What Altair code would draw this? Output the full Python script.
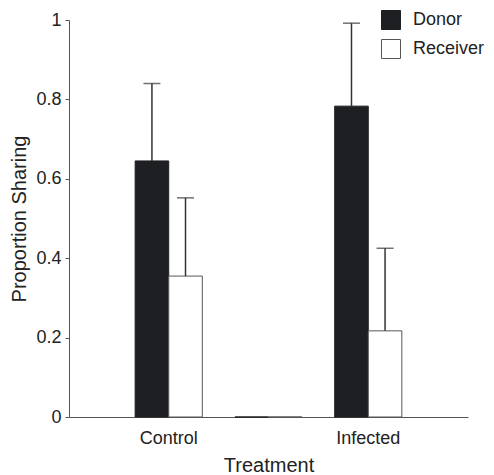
import altair as alt
import pandas as pd

treatments = ["Control", " ", "Infected"]
groups = ["Donor", "Receiver"]
donor_mean = [0.645, 0.0, 0.783]
receiver_mean = [0.355, 0.0, 0.217]
donor_upper = [0.840, None, 0.992]
receiver_upper = [0.552, None, 0.425]

rows = []
for i, t in enumerate(treatments):
    rows.append({"Treatment": t, "Group": "Donor", "value": donor_mean[i], "upper": donor_upper[i]})
    rows.append({"Treatment": t, "Group": "Receiver", "value": receiver_mean[i], "upper": receiver_upper[i]})
df = pd.DataFrame(rows)
err = df.dropna(subset=["upper"])

FONT = "Liberation Sans"
TXT = "#222222"

x = alt.X("Treatment:N", sort=treatments,
          scale=alt.Scale(paddingInner=0.327, paddingOuter=0.663),
          axis=alt.Axis(title="Treatment", labelAngle=0, ticks=False, labelPadding=12,
                        titlePadding=8, domainColor="#555555", domainWidth=1))
xoff = alt.XOffset("Group:N", sort=groups, scale=alt.Scale(paddingInner=0, paddingOuter=0))
y = alt.Y("value:Q", scale=alt.Scale(domain=[0, 1], nice=False),
          axis=alt.Axis(title="Proportion Sharing", values=[0, 0.2, 0.4, 0.6, 0.8, 1],
                        format="~g", tickSize=4, labelPadding=4, grid=False,
                        domainColor="#555555", tickColor="#555555", titlePadding=6))

bars = alt.Chart(df).mark_bar(strokeWidth=1).encode(
    x=x, xOffset=xoff, y=y,
    fill=alt.Fill("Group:N", sort=groups,
                  scale=alt.Scale(domain=groups, range=["#1e1f22", "#ffffff"]),
                  legend=alt.Legend(title=None, orient="none", legendX=312, legendY=-10,
                                    symbolType="square", symbolSize=361,
                                    symbolStrokeColor="#555555", symbolStrokeWidth=1,
                                    labelFontSize=18, labelFont=FONT, labelColor=TXT,
                                    labelOffset=12, rowPadding=5)),
    stroke=alt.Stroke("Group:N", sort=groups,
                      scale=alt.Scale(domain=groups, range=["#1e1f22", "#555555"]),
                      legend=None),
)

rules = alt.Chart(err).mark_rule(color="#333333", strokeWidth=1.5).encode(
    x=x, xOffset=xoff, y="value:Q", y2="upper:Q")

caps = alt.Chart(err).mark_tick(color="#333333", thickness=1.5, size=17).encode(
    x=x, xOffset=xoff, y="upper:Q")

chart = alt.layer(bars, rules, caps).properties(
    width=399, height=397,
    autosize=alt.AutoSizeParams(type="none"),
    padding={"left": 61, "top": 12, "right": 18, "bottom": 58},
).configure_view(stroke=None).configure_axis(
    labelFont=FONT, titleFont=FONT, labelFontSize=18, titleFontSize=20,
    labelColor=TXT, titleColor=TXT, titleFontWeight="normal",
)

chart.save("out.html", embed_options={"renderer": "svg", "actions": False})
